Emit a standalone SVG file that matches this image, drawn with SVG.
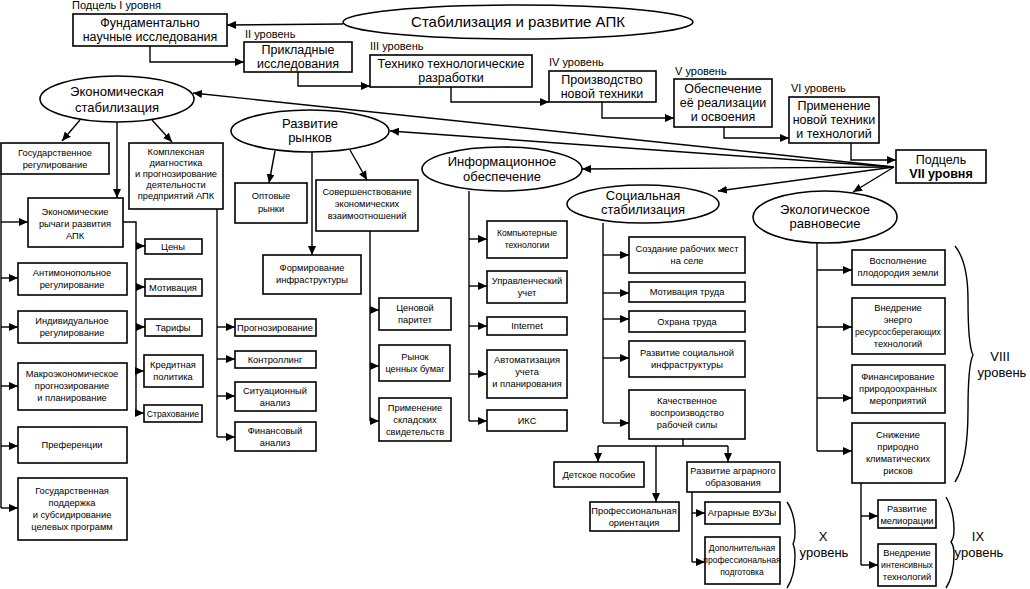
<svg xmlns="http://www.w3.org/2000/svg" width="1030" height="589" viewBox="0 0 1030 589">
<defs>
<marker id="a" markerUnits="userSpaceOnUse" markerWidth="9" markerHeight="8" refX="9" refY="4" orient="auto"><path d="M0,0 L9,4 L0,8 z" fill="#000"/></marker>
<style>
rect{fill:#fff;stroke:#000;stroke-width:1.6}
ellipse{fill:#fff;stroke:#000;stroke-width:1.6}
text{font-family:"Liberation Sans",Arial,sans-serif;text-anchor:middle;fill:#000}
.L{font-size:12.5px}
.E{font-size:13px}
.s{font-size:9.3px}
.x{font-size:8.6px}
.lab{font-size:11px;text-anchor:start}
.c path{fill:none;stroke:#000;stroke-width:1.4}
.c .ar{marker-end:url(#a)}
.br{fill:none;stroke:#000;stroke-width:1.4}
</style>
</defs>
<rect x="0" y="0" width="1030" height="589" style="fill:#fff;stroke:none"/>
<g class="c">
<path class="ar" d="M343,24 L227,25"/>
<path class="ar" d="M150,46 V62 H244"/>
<path class="ar" d="M298,72 V86 H370"/>
<path class="ar" d="M451,87 V102 H549"/>
<path class="ar" d="M602,102 V118 H674"/>
<path class="ar" d="M724,127 V138 H789"/>
<path class="ar" d="M851,143 V160 H896"/>
<path class="ar" d="M894,167 L193,93"/>
<path class="ar" d="M894,167 L390,131"/>
<path class="ar" d="M894,167 L582,169"/>
<path class="ar" d="M894,167 L718,191"/>
<path class="ar" d="M894,167 L853,192"/>
<path class="ar" d="M80,120 L62,141"/>
<path class="ar" d="M117,122 V198"/>
<path class="ar" d="M152,120 L172,142"/>
<path d="M1,174 V508"/>
<path class="ar" d="M1,222 H28"/>
<path class="ar" d="M1,278 H18"/>
<path class="ar" d="M1,327 H18"/>
<path class="ar" d="M1,386 H18"/>
<path class="ar" d="M1,446 H18"/>
<path class="ar" d="M1,508 H18"/>
<path d="M123,222 H136 V413"/>
<path class="ar" d="M136,246 H145"/>
<path class="ar" d="M136,287 H145"/>
<path class="ar" d="M136,327 H145"/>
<path class="ar" d="M136,371 H144"/>
<path class="ar" d="M136,413 H144"/>
<path d="M217,209 V437"/>
<path class="ar" d="M217,327 H235"/>
<path class="ar" d="M217,359 H235"/>
<path class="ar" d="M217,396 H235"/>
<path class="ar" d="M217,437 H235"/>
<path class="ar" d="M275,151 L269,183"/>
<path class="ar" d="M312,152 V255"/>
<path class="ar" d="M350,150 L367,180"/>
<path d="M370,231 V421"/>
<path class="ar" d="M370,310 H379"/>
<path class="ar" d="M370,366 H379"/>
<path class="ar" d="M370,421 H379"/>
<path d="M469,191 V421"/>
<path class="ar" d="M469,239 H487"/>
<path class="ar" d="M469,286 H487"/>
<path class="ar" d="M469,326 H487"/>
<path class="ar" d="M469,374 H487"/>
<path class="ar" d="M469,421 H487"/>
<path d="M603,223 V423"/>
<path class="ar" d="M603,255 H629"/>
<path class="ar" d="M603,293 H629"/>
<path class="ar" d="M603,319 H629"/>
<path class="ar" d="M603,358 H629"/>
<path class="ar" d="M603,423 H629"/>
<path d="M683,439 V446 M598,446 H728"/>
<path class="ar" d="M598,446 V462"/>
<path class="ar" d="M728,446 V462"/>
<path class="ar" d="M656,446 V502"/>
<path d="M692,492 V562"/>
<path class="ar" d="M692,513 H705"/>
<path class="ar" d="M692,562 H705"/>
<path d="M817,243 V451"/>
<path class="ar" d="M817,270 H852"/>
<path class="ar" d="M817,327 H852"/>
<path class="ar" d="M817,398 H852"/>
<path class="ar" d="M817,451 H852"/>
<path d="M861,483 V565"/>
<path class="ar" d="M861,516 H878"/>
<path class="ar" d="M861,565 H878"/>
</g>
<g id="main"><ellipse cx="518" cy="22" rx="175" ry="17"/><text x="518" y="27" style="font-size:15px">Стабилизация и развитие АПК</text></g>
<text class="lab" x="72" y="9">Подцель I уровня</text>
<text class="lab" x="245" y="38">II уровень</text>
<text class="lab" x="370" y="50">III уровень</text>
<text class="lab" x="549" y="66">IV уровень</text>
<text class="lab" x="675" y="75">V уровень</text>
<text class="lab" x="791" y="92">VI уровень</text>
<g id="n1"><rect x="73" y="14" width="154" height="32"/><text class="L" x="150" y="27">Фундаментально</text><text class="L" x="150" y="41">научные исследования</text></g>
<g id="n2"><rect x="244" y="42" width="108" height="30"/><text class="L" x="298" y="54">Прикладные</text><text class="L" x="298" y="68">исследования</text></g>
<g id="n3"><rect x="370" y="55" width="162" height="32"/><text class="L" x="451" y="68">Технико технологические</text><text class="L" x="451" y="82">разработки</text></g>
<g id="n4"><rect x="549" y="71" width="107" height="31"/><text class="L" x="602" y="84">Производство</text><text class="L" x="602" y="98">новой техники</text></g>
<g id="n5"><rect x="674" y="79" width="98" height="48"/><text class="L" x="723" y="93">Обеспечение</text><text class="L" x="723" y="107">её реализации</text><text class="L" x="723" y="121">и освоения</text></g>
<g id="n6"><rect x="789" y="97" width="90" height="46"/><text class="L" x="834" y="110">Применение</text><text class="L" x="834" y="124">новой техники</text><text class="L" x="834" y="138">и технологий</text></g>
<g id="n7"><rect x="896" y="150" width="90" height="33"/><text class="L" x="941" y="164">Подцель</text><text class="L" x="941" y="178" style="font-weight:bold">VII уровня</text></g>
<g id="e1"><ellipse cx="117" cy="99" rx="77" ry="23"/><text class="E" x="117" y="96">Экономическая</text><text class="E" x="117" y="112">стабилизация</text></g>
<g id="e2"><ellipse cx="310" cy="131" rx="79" ry="21"/><text class="E" x="310" y="128">Развитие</text><text class="E" x="310" y="142">рынков</text></g>
<g id="e3"><ellipse cx="502" cy="169" rx="80" ry="22"/><text class="E" x="502" y="166">Информационное</text><text class="E" x="502" y="181">обеспечение</text></g>
<g id="e4"><ellipse cx="643" cy="204" rx="76" ry="19"/><text class="E" x="643" y="200">Социальная</text><text class="E" x="643" y="214">стабилизация</text></g>
<g id="e5"><ellipse cx="825" cy="217" rx="72" ry="26"/><text class="E" x="825" y="214">Экологическое</text><text class="E" x="825" y="228">равновесие</text></g>
<g id="b1"><rect x="1" y="143" width="108" height="31"/><text class="s" x="55" y="156">Государственное</text><text class="s" x="55" y="168">регулирование</text></g>
<g id="b2"><rect x="129" y="143" width="94" height="66"/><text class="s" x="176" y="155">Комплексная</text><text class="s" x="176" y="166">диагностика</text><text class="s" x="176" y="177">и прогнозирование</text><text class="s" x="176" y="188">деятельности</text><text class="s" x="176" y="199">предприятий АПК</text></g>
<g id="b3"><rect x="28" y="198" width="95" height="49"/><text class="s" x="75" y="215">Экономические</text><text class="s" x="75" y="227">рычаги развития</text><text class="s" x="75" y="239">АПК</text></g>
<g id="b4"><rect x="18" y="263" width="109" height="32"/><text class="s" x="72" y="276">Антимонопольное</text><text class="s" x="72" y="288">регулирование</text></g>
<g id="b5"><rect x="18" y="311" width="109" height="32"/><text class="s" x="72" y="324">Индивидуальное</text><text class="s" x="72" y="336">регулирование</text></g>
<g id="b6"><rect x="18" y="363" width="109" height="47"/><text class="s" x="72" y="377">Макроэкономическое</text><text class="s" x="72" y="389">прогнозирование</text><text class="s" x="72" y="401">и планирование</text></g>
<g id="b7"><rect x="18" y="427" width="109" height="36"/><text class="s" x="72" y="448">Преференции</text></g>
<g id="b8"><rect x="18" y="478" width="109" height="62"/><text class="s" x="72" y="494">Государственная</text><text class="s" x="72" y="506">поддержка</text><text class="s" x="72" y="518">и субсидирование</text><text class="s" x="72" y="530">целевых программ</text></g>
<g id="b9"><rect x="145" y="239" width="57" height="15"/><text class="s" x="173" y="250">Цены</text></g>
<g id="b10"><rect x="145" y="279" width="57" height="17"/><text class="s" x="173" y="291">Мотивация</text></g>
<g id="b11"><rect x="145" y="319" width="57" height="17"/><text class="s" x="173" y="331">Тарифы</text></g>
<g id="b12"><rect x="144" y="355" width="59" height="32"/><text class="s" x="173" y="368">Кредитная</text><text class="s" x="173" y="380">политика</text></g>
<g id="b13"><rect x="144" y="405" width="58" height="17"/><text class="x" x="173" y="417">Страхование</text></g>
<g id="b14"><rect x="235" y="319" width="81" height="17"/><text class="s" x="275" y="331">Прогнозирование</text></g>
<g id="b15"><rect x="235" y="351" width="81" height="17"/><text class="s" x="275" y="363">Контроллинг</text></g>
<g id="b16"><rect x="235" y="382" width="81" height="29"/><text class="s" x="275" y="394">Ситуационный</text><text class="s" x="275" y="406">анализ</text></g>
<g id="b17"><rect x="235" y="422" width="81" height="29"/><text class="s" x="275" y="434">Финансовый</text><text class="s" x="275" y="446">анализ</text></g>
<g id="b18"><rect x="235" y="183" width="72" height="40"/><text class="s" x="271" y="199">Оптовые</text><text class="s" x="271" y="212">рынки</text></g>
<g id="b19"><rect x="316" y="180" width="102" height="51"/><text class="s" x="367" y="195">Совершенствование</text><text class="s" x="367" y="207">экономических</text><text class="s" x="367" y="219">взаимоотношений</text></g>
<g id="b20"><rect x="263" y="255" width="98" height="39"/><text class="s" x="312" y="271">Формирование</text><text class="s" x="312" y="283">инфраструктуры</text></g>
<g id="b21"><rect x="379" y="298" width="72" height="32"/><text class="s" x="415" y="311">Ценовой</text><text class="s" x="415" y="323">паритет</text></g>
<g id="b22"><rect x="379" y="345" width="71" height="36"/><text class="s" x="415" y="360">Рынок</text><text class="s" x="415" y="372">ценных бумаг</text></g>
<g id="b23"><rect x="379" y="398" width="72" height="43"/><text class="s" x="415" y="411">Применение</text><text class="s" x="415" y="423">складских</text><text class="s" x="415" y="435">свидетельств</text></g>
<g id="b24"><rect x="487" y="221" width="80" height="37"/><text class="x" x="527" y="236">Компьютерные</text><text class="x" x="527" y="248">технологии</text></g>
<g id="b25"><rect x="487" y="271" width="80" height="32"/><text class="s" x="527" y="284">Управленческий</text><text class="s" x="527" y="296">учет</text></g>
<g id="b26"><rect x="487" y="317" width="80" height="18"/><text class="s" x="527" y="329">Internet</text></g>
<g id="b27"><rect x="487" y="350" width="80" height="48"/><text class="s" x="527" y="363">Автоматизация</text><text class="s" x="527" y="375">учета</text><text class="s" x="527" y="387">и планирования</text></g>
<g id="b28"><rect x="487" y="410" width="80" height="21"/><text class="s" x="527" y="424">ИКС</text></g>
<g id="b29"><rect x="629" y="237" width="116" height="36"/><text class="s" x="687" y="252">Создание рабочих мест</text><text class="s" x="687" y="264">на селе</text></g>
<g id="b30"><rect x="629" y="282" width="116" height="20"/><text class="s" x="687" y="295">Мотивация труда</text></g>
<g id="b31"><rect x="629" y="311" width="116" height="21"/><text class="s" x="687" y="325">Охрана труда</text></g>
<g id="b32"><rect x="629" y="341" width="116" height="36"/><text class="s" x="687" y="356">Развитие социальной</text><text class="s" x="687" y="368">инфраструктуры</text></g>
<g id="b33"><rect x="629" y="390" width="116" height="49"/><text class="s" x="687" y="404">Качественное</text><text class="s" x="687" y="416">воспроизводство</text><text class="s" x="687" y="428">рабочей силы</text></g>
<g id="b34"><rect x="554" y="462" width="90" height="25"/><text class="s" x="599" y="478">Детское пособие</text></g>
<g id="b35"><rect x="687" y="462" width="93" height="30"/><text class="s" x="733" y="474">Развитие аграрного</text><text class="s" x="733" y="486">образования</text></g>
<g id="b36"><rect x="590" y="502" width="89" height="29"/><text class="s" x="634" y="514">Профессиональная</text><text class="s" x="634" y="526">ориентация</text></g>
<g id="b37"><rect x="705" y="502" width="75" height="22"/><text class="s" x="742" y="516">Аграрные ВУЗы</text></g>
<g id="b38"><rect x="705" y="537" width="75" height="47"/><text class="x" x="742" y="551">Дополнительная</text><text class="x" x="742" y="563">профессиональная</text><text class="x" x="742" y="575">подготовка</text></g>
<g id="b39"><rect x="852" y="250" width="93" height="35"/><text class="s" x="898" y="264">Восполнение</text><text class="s" x="898" y="276">плодородия земли</text></g>
<g id="b40"><rect x="852" y="298" width="93" height="56"/><text class="s" x="898" y="311">Внедрение</text><text class="s" x="898" y="323">энерго</text><text class="x" x="898" y="335">ресурсосберегающих</text><text class="s" x="898" y="347">технологий</text></g>
<g id="b41"><rect x="852" y="365" width="93" height="48"/><text class="s" x="898" y="380">Финансирование</text><text class="s" x="898" y="392">природоохранных</text><text class="s" x="898" y="404">мероприятий</text></g>
<g id="b42"><rect x="852" y="423" width="93" height="60"/><text class="s" x="898" y="438">Снижение</text><text class="s" x="898" y="450">природно</text><text class="s" x="898" y="462">климатических</text><text class="s" x="898" y="474">рисков</text></g>
<g id="b43"><rect x="878" y="500" width="58" height="28"/><text class="s" x="907" y="512">Развитие</text><text class="s" x="907" y="524">мелиорации</text></g>
<g id="b44"><rect x="878" y="544" width="58" height="42"/><text class="s" x="907" y="556">Внедрение</text><text class="x" x="907" y="568">интенсивных</text><text class="s" x="907" y="580">технологий</text></g>
<path class="br" d="M787,502 Q795,514 795,532 Q795,540 793,544 Q795,548 795,556 Q795,576 787,588"/>
<path class="br" d="M946,497 Q954,510 954,530 Q954,538 951,542 Q954,546 954,554 Q954,576 946,588"/>
<path class="br" d="M955,246 Q968,262 968,300 Q968,345 973,355 Q968,365 968,410 Q968,462 955,482"/>
<text class="E" x="823" y="541">X</text><text class="E" x="824" y="557">уровень</text>
<text class="E" x="978" y="541">IX</text><text class="E" x="979" y="557">уровень</text>
<text class="E" x="1000" y="361">VIII</text><text class="E" x="1002" y="377">уровень</text>
</svg>
